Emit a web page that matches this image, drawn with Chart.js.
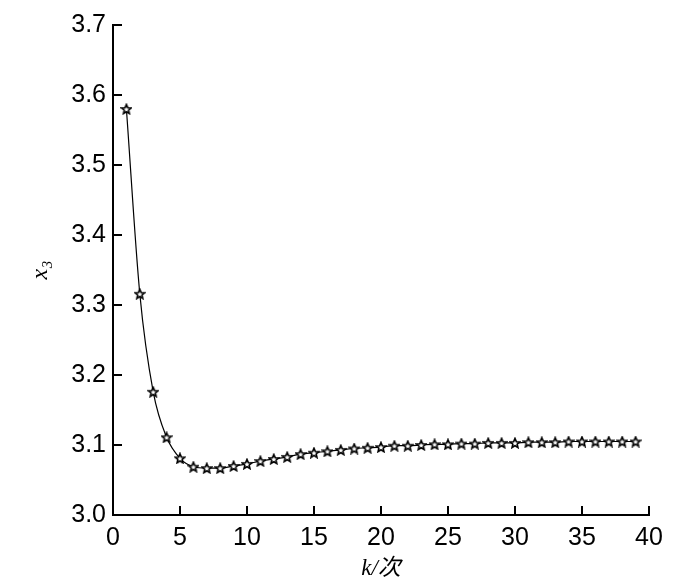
<!DOCTYPE html>
<html>
<head>
<meta charset="utf-8">
<script src="https://cdn.jsdelivr.net/npm/chart.js@4.4.1/dist/chart.umd.min.js"></script>
<style>
  html, body { margin: 0; padding: 0; background: #fff; }
  #wrap { width: 700px; height: 587px; }
</style>
</head>
<body>
<div id="wrap"><canvas id="x3Chart" width="700" height="587"></canvas></div>
<script>
// iteration index k and value of x3
const kSteps = [1, 2, 3, 4, 5, 6, 7, 8, 9, 10, 11, 12, 13, 14, 15, 16, 17, 18, 19, 20,
  21, 22, 23, 24, 25, 26, 27, 28, 29, 30, 31, 32, 33, 34, 35, 36, 37, 38, 39];
const x3Values = [3.580, 3.316, 3.176, 3.111, 3.081, 3.069, 3.067, 3.067, 3.070, 3.073,
  3.077, 3.080, 3.083, 3.087, 3.089, 3.091, 3.093, 3.095, 3.096, 3.097,
  3.099, 3.099, 3.100, 3.101, 3.101, 3.102, 3.102, 3.103, 3.103, 3.103,
  3.104, 3.104, 3.104, 3.105, 3.105, 3.105, 3.105, 3.105, 3.105];
const xTickLabels = [0, 5, 10, 15, 20, 25, 30, 35, 40];
const yTickLabels = [3.0, 3.1, 3.2, 3.3, 3.4, 3.5, 3.6, 3.7];

// --- marker: five-pointed star outline ---
function makeStar(size) {
  const c = document.createElement('canvas');
  c.width = size; c.height = size;
  const g = c.getContext('2d');
  const cx = size / 2, cy = size / 2 + 0.5, R = size / 2 - 1, r = R * 0.45;
  g.beginPath();
  for (let i = 0; i < 10; i++) {
    const rad = i % 2 === 0 ? R : r;
    const a = -Math.PI / 2 + i * Math.PI / 5;
    const px = cx + rad * Math.cos(a), py = cy + rad * Math.sin(a);
    if (i === 0) g.moveTo(px, py); else g.lineTo(px, py);
  }
  g.closePath();
  g.fillStyle = '#fff';
  g.fill();
  g.strokeStyle = '#000';
  g.lineWidth = 1.6;
  g.stroke();
  return c;
}
const starImg = makeStar(12);

// --- inward tick marks ---
const inwardTicks = {
  id: 'inwardTicks',
  afterDraw(chart) {
    const ctx = chart.ctx;
    const area = chart.chartArea;
    const len = 9;
    ctx.save();
    ctx.strokeStyle = '#000';
    ctx.lineWidth = 2;
    chart.scales.x.ticks.forEach(t => {
      const px = Math.round(chart.scales.x.getPixelForValue(t.value));
      ctx.beginPath();
      ctx.moveTo(px, area.bottom);
      ctx.lineTo(px, area.bottom - len);
      ctx.stroke();
    });
    chart.scales.y.ticks.forEach(t => {
      const py = Math.round(chart.scales.y.getPixelForValue(t.value));
      ctx.beginPath();
      ctx.moveTo(area.left, py);
      ctx.lineTo(area.left + len, py);
      ctx.stroke();
    });
    ctx.restore();
  }
};

const tickFont = { family: "'Liberation Sans', Arial, sans-serif", size: 25 };

new Chart(document.getElementById('x3Chart').getContext('2d'), {
  type: 'line',
  data: {
    datasets: [{
      data: kSteps.map((k, i) => ({ x: k, y: x3Values[i] })),
      borderColor: '#000',
      borderWidth: 1.2,
      pointStyle: starImg,
      pointRadius: 6,
      cubicInterpolationMode: 'monotone',
      fill: false
    }]
  },
  options: {
    responsive: false,
    animation: false,
    layout: { padding: { top: 25, right: 51, bottom: 0, left: 0 } },
    plugins: { legend: { display: false }, tooltip: { enabled: false } },
    scales: {
      x: {
        type: 'linear',
        min: xTickLabels[0],
        max: xTickLabels[xTickLabels.length - 1],
        afterBuildTicks: s => { s.ticks = xTickLabels.map(v => ({ value: v })); },
        afterFit: s => { s.height = 72; },
        grid: { display: true, drawOnChartArea: false, drawTicks: false },
        border: { color: '#000', width: 2 },
        ticks: { color: '#000', font: tickFont, padding: 8, maxRotation: 0 },
        title: {
          display: true,
          text: 'k/次',
          color: '#000',
          font: { family: "'Liberation Serif', 'Noto Sans CJK SC', serif", size: 23, style: 'italic' },
          padding: { top: 0, bottom: 4 }
        }
      },
      y: {
        min: yTickLabels[0],
        max: yTickLabels[yTickLabels.length - 1],
        afterBuildTicks: s => { s.ticks = yTickLabels.map(v => ({ value: v })); },
        afterFit: s => { s.width = 113; },
        grid: { display: true, drawOnChartArea: false, drawTicks: false },
        border: { color: '#000', width: 2 },
        ticks: { color: '#000', font: tickFont, padding: 7, callback: v => v.toFixed(1) },
        title: {
          display: true,
          text: 'x₃',
          color: '#000',
          font: { family: "'Liberation Serif', serif", size: 24, style: 'italic' },
          padding: { top: 26, bottom: 0 }
        }
      }
    }
  },
  plugins: [inwardTicks]
});
</script>
</body>
</html>
